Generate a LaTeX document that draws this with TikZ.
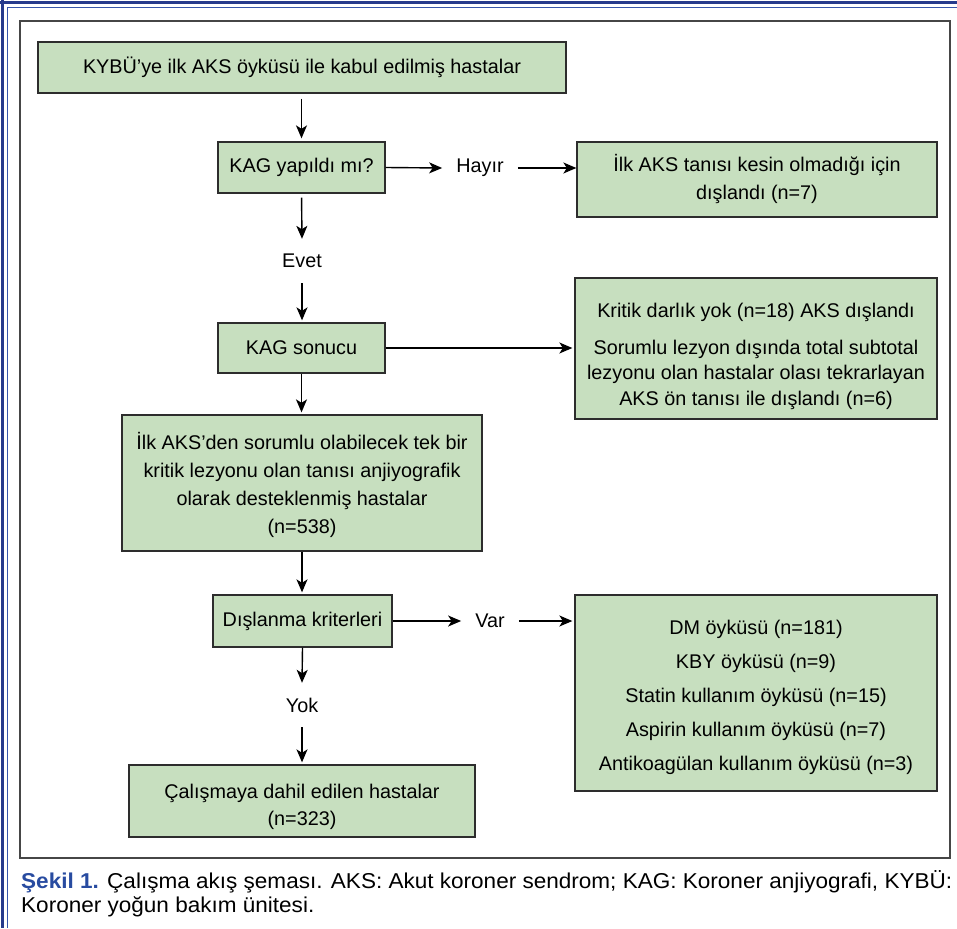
\documentclass[tikz,border=0pt]{standalone}
\usepackage{fontspec}
\setmainfont{Liberation Sans}
\usetikzlibrary{arrows.meta}
\definecolor{boxfill}{RGB}{199,223,191}
\definecolor{boxline}{RGB}{45,45,45}
\definecolor{navy}{RGB}{38,58,140}
\definecolor{navylight}{RGB}{55,85,170}
\definecolor{capblue}{RGB}{40,75,160}
\definecolor{framegray}{RGB}{70,70,70}
\newlength\caplen
\newcommand\capone{\textcolor{capblue}{\bfseries Şekil 1.} Çalışma akış şeması. AKS: Akut koroner sendrom; KAG: Koroner anjiyografi, KYBÜ:}
\newcommand\topstrut[1]{\rule{0pt}{#1}}
\begin{document}
\settowidth\caplen{\fontsize{21.5}{24}\selectfont\capone}
\pgfmathsetmacro\capscale{931/(\caplen/1pt)}
\begin{tikzpicture}[x=1pt,y=-1pt,
  fbox/.style={draw=boxline, line width=1.3pt, fill=boxfill, inner sep=0pt, align=center,
    font=\fontsize{19.8}{27}\selectfont},
  lbl/.style={inner xsep=14pt, inner ysep=0pt, minimum height=44pt, font=\fontsize{19.8}{27}\selectfont},
  arr/.style={draw=black, line width=1.4pt, -{Stealth[length=13pt,width=11pt,inset=3.5pt]}}]
\useasboundingbox (0,0) rectangle (957,928);
% outer blue border
\draw[navy, line width=3pt] (0,3) -- (957,3);
\draw[navy, line width=3pt] (2.5,0) -- (2.5,928);
\draw[navylight, line width=1.5pt] (7.5,7.5) -- (957,7.5);
\draw[navylight, line width=1.5pt] (7.5,7.5) -- (7.5,928);
% inner frame
\draw[framegray, line width=1.5pt] (20,21) rectangle (950,858);
% boxes
\node[fbox, minimum width=528pt, minimum height=51pt] (b1) at (302,67.5) {KYBÜ’ye ilk AKS öyküsü ile kabul edilmiş hastalar};
\node[fbox, minimum width=167pt, minimum height=51pt] (b2) at (301.5,167.5) {KAG yapıldı mı?};
\node[fbox, minimum width=360pt, minimum height=75pt] (b3) at (757,179.5) {İlk AKS tanısı kesin olmadığı için\\[1pt]dışlandı (n=7)};
\node[lbl] (hayir) at (480,168) {Hayır};
\node[lbl] (evet) at (302,261) {Evet};
\node[fbox, minimum width=167pt, minimum height=50pt] (b4) at (301.5,348) {KAG sonucu};
\node[fbox, minimum width=362pt, minimum height=141pt] (b5) at (756,348.5) {\topstrut{30pt}Kritik darlık yok (n=18) AKS dışlandı\\[10pt]Sorumlu lezyon dışında total subtotal\\[-2pt]lezyonu olan hastalar olası tekrarlayan\\[-1pt]AKS ön tanısı ile dışlandı (n=6)};
\node[fbox, minimum width=360pt, minimum height=136pt] (b6) at (302,483) {\topstrut{22pt}İlk AKS’den sorumlu olabilecek tek bir\\[1pt]kritik lezyonu olan tanısı anjiyografik\\[1pt]olarak desteklenmiş hastalar\\[1pt](n=538)};
\node[fbox, minimum width=179pt, minimum height=52pt] (b7) at (302.5,621) {Dışlanma kriterleri};
\node[lbl] (var) at (490,621) {Var};
\node[fbox, minimum width=362pt, minimum height=196pt] (b8) at (756,693) {\topstrut{24pt}DM öyküsü (n=181)\\[7pt]KBY öyküsü (n=9)\\[7pt]Statin kullanım öyküsü (n=15)\\[7pt]Aspirin kullanım öyküsü (n=7)\\[7pt]Antikoagülan kullanım öyküsü (n=3)};
\node[lbl] (yok) at (302,705) {Yok};
\node[fbox, minimum width=346pt, minimum height=72pt] (b9) at (302,801) {\topstrut{26pt}Çalışmaya dahil edilen hastalar\\(n=323)};
% connectors
\draw[arr, shorten <=5pt, shorten >=3pt] (b1.south -| b2) -- (b2.north);
\draw[arr] (b2.east) -- (hayir.west);
\draw[arr] (hayir.east) -- (hayir.east -| b3.west);
\draw[arr, shorten <=4pt] (b2.south) -- (evet.north);
\draw[arr, shorten >=2pt] (evet.south) -- (evet.south |- b4.north);
\draw[arr, shorten >=2pt] (b4.east) -- (b4.east -| b5.west);
\draw[arr, shorten >=2pt] (b4.south) -- (b4.south |- b6.north);
\draw[arr, shorten >=2pt] (b6.south) -- (b6.south |- b7.north);
\draw[arr] (b7.east) -- (var.west);
\draw[arr, shorten >=2pt] (var.east) -- (var.east -| b8.west);
\draw[arr] (b7.south) -- (yok.north);
\draw[arr, shorten >=2pt] (yok.south) -- (yok.south |- b9.north);
% caption
\node[anchor=base west, inner sep=0pt, font=\fontsize{21.5}{24}\selectfont] (cap1) at (21,888) {\scalebox{\capscale}[1]{\capone}};
\node[anchor=base west, inner sep=0pt, font=\fontsize{21.5}{24}\selectfont] (cap2) at (21,912) {\scalebox{\capscale}[1]{Koroner yoğun bakım ünitesi.}};
\end{tikzpicture}
\end{document}
